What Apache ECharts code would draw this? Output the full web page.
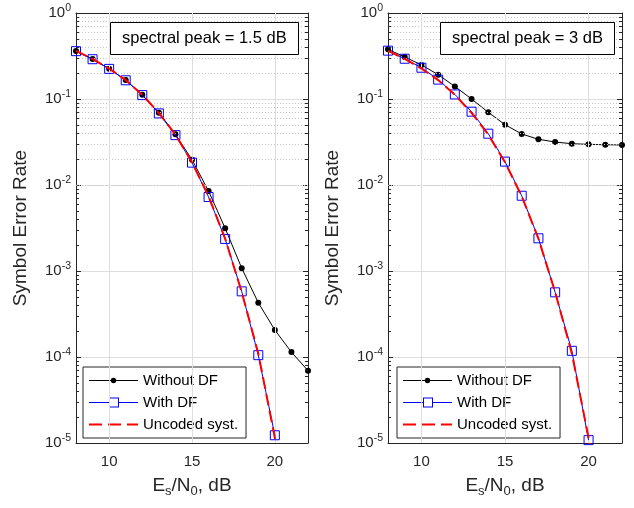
<!DOCTYPE html>
<html><head><meta charset="utf-8">
<script src="https://cdn.jsdelivr.net/npm/echarts@6/dist/echarts.min.js"></script>
<style>html,body{margin:0;padding:0;background:#fff}#c{width:634px;height:508px}</style>
</head><body><div id="c"></div>
<script>
// ---- data ----
const snr = [8, 9, 10, 11, 12, 13, 14, 15, 16, 17, 18, 19, 20, 21, 22];
const leftWithoutDF = [0.361, 0.292, 0.225, 0.166, 0.112, 0.0693, 0.0388, 0.0197, 0.0085, 0.00314, 0.00108, 4.28e-4, 2.06e-4, 1.14e-4, 6.93e-5];
const leftWithDF = [0.36, 0.29, 0.224, 0.165, 0.111, 0.068, 0.038, 0.0182, 0.00725, 0.00236, 5.8e-4, 1.05e-4, 1.23e-5];
const rightWithoutDF = [0.378, 0.308, 0.249, 0.192, 0.140, 0.100, 0.070, 0.0503, 0.0392, 0.034, 0.0316, 0.0302, 0.0297, 0.0294, 0.0292];
const rightWithDF = [0.365, 0.294, 0.231, 0.168, 0.113, 0.0712, 0.0395, 0.0187, 0.0075, 0.0024, 5.65e-4, 1.18e-4, 1.08e-5];
const uncodedSER = [0.362, 0.292, 0.226, 0.166, 0.112, 0.069, 0.0385, 0.0184, 0.0074, 0.00238, 5.7e-4, 1.1e-4, 1.15e-5, 8e-7];
const seriesNames = ['Without DF', 'With DF', 'Uncoded syst.'];
const panelTitles = ['spectral peak = 1.5 dB', 'spectral peak = 3 dB'];
const xTicks = [10, 15, 20];
const xRange = [8, 22];
const yRange = [1e-5, 1];

// ---- helpers ----
const FONT = 'Liberation Sans, Arial, Helvetica, sans-serif';
const pairs = arr => arr.map((v, i) => [snr[i], v]);
const minorVals = [];
for (let e = -5; e < 0; e++) for (let k = 2; k <= 9; k++) minorVals.push(k * Math.pow(10, e));

const grids = [
  { left: 76, top: 13, width: 232, height: 430 },
  { left: 388, top: 13, width: 234, height: 430 }
];
const axisColor = '#262626';

// legend icons (line sample + marker), drawn at 1:1 in a 49x14 box, fill only
const legendIcons = [
  'path://M0,6.5H49V7.5H0Z M21.8,7A2.7,2.7 0 1 1 27.2,7A2.7,2.7 0 1 1 21.8,7Z',
  'path://M0,6.5H20V7.5H0Z M20,2H30V12H20Z M21,3V11H29V3Z M30,6.5H49V7.5H30Z',
  'path://M0,6H13V8H0Z M19,6H32V8H19Z M38,6H49V8H38Z'
];
const legendItemStyles = [
  { color: '#000', borderWidth: 0 },
  { color: '#0000ff', borderWidth: 0 },
  { color: '#ff0000', borderWidth: 0 }
];

const xAxes = [], yAxes = [], series = [], titles = [], legends = [];
const panels = [
  { without: leftWithoutDF, withdf: leftWithDF },
  { without: rightWithoutDF, withdf: rightWithDF }
];
panels.forEach((p, gi) => {
  xAxes.push({
    gridIndex: gi, type: 'value', min: xRange[0], max: xRange[1], position: 'bottom',
    name: '{n|E}{sub|s}{n|/N}{sub|0}{n|, dB}', nameLocation: 'middle', nameGap: 31,
    nameTextStyle: { rich: { n: { fontSize: 19, fontFamily: FONT, color: axisColor }, sub: { fontSize: 13, fontFamily: FONT, color: axisColor, padding: [11, 0, 0, 0] } } },
    axisLine: { onZero: false, lineStyle: { color: axisColor, width: 1 } },
    axisTick: { show: true, inside: true, length: 5, customValues: xTicks, lineStyle: { color: axisColor } },
    axisLabel: { customValues: xTicks, fontSize: 15, fontFamily: FONT, color: axisColor, margin: 11 },
    splitLine: { show: false }
  });
  xAxes.push({
    gridIndex: gi, type: 'value', min: xRange[0], max: xRange[1], position: 'top',
    axisLine: { onZero: false, lineStyle: { color: axisColor, width: 1 } },
    axisTick: { show: true, inside: true, length: 5, customValues: xTicks, lineStyle: { color: axisColor } },
    axisLabel: { show: false }, splitLine: { show: false }
  });
  yAxes.push({
    gridIndex: gi, type: 'log', logBase: 10, min: yRange[0], max: yRange[1], position: 'left',
    name: 'Symbol Error Rate', nameLocation: 'middle', nameGap: 46,
    nameTextStyle: { fontSize: 19, fontFamily: FONT, color: axisColor },
    axisLine: { onZero: false, lineStyle: { color: axisColor, width: 1 } },
    axisTick: { show: true, inside: true, length: 5, lineStyle: { color: axisColor } },
    axisLabel: {
      margin: 5, color: axisColor,
      formatter: v => '{b|10}{s|' + Math.round(Math.log10(v)) + '}',
      rich: { b: { fontSize: 15, fontFamily: FONT, color: axisColor }, s: { fontSize: 10.5, fontFamily: FONT, color: axisColor, padding: [0, 0, 10, 0] } }
    },
    splitLine: { show: true, lineStyle: { color: '#dedede', width: 1 } }
  });
  yAxes.push({
    gridIndex: gi, type: 'log', logBase: 10, min: yRange[0], max: yRange[1], position: 'right',
    axisLine: { onZero: false, lineStyle: { color: axisColor, width: 1 } },
    axisTick: { show: true, inside: true, length: 5, lineStyle: { color: axisColor } },
    axisLabel: { show: false }, splitLine: { show: false }
  });
  const xi = gi * 2, yi = gi * 2;
  const tickDx = 0.18;
  const minorTickLines = [];
  minorVals.forEach(v => {
    minorTickLines.push([{ coord: [xRange[0], v] }, { coord: [xRange[0] + tickDx, v] }]);
    minorTickLines.push([{ coord: [xRange[1] - tickDx, v] }, { coord: [xRange[1], v] }]);
  });
  series.push({
    type: 'line', xAxisIndex: xi, yAxisIndex: yi, data: [], z: 1, silent: true,
    markLine: {
      silent: true, symbol: 'none', label: { show: false }, animation: false,
      lineStyle: { color: '#c4c4c4', type: [1, 2], width: 1 },
      data: minorVals.map(v => ({ yAxis: v }))
    }
  });
  series.push({
    type: 'line', xAxisIndex: xi, yAxisIndex: yi, data: [], z: 1, silent: true,
    markLine: {
      silent: true, symbol: 'none', label: { show: false }, animation: false,
      lineStyle: { color: '#dedede', type: 'solid', width: 1 },
      data: xTicks.map(v => ({ xAxis: v }))
    }
  });
  series.push({
    type: 'line', xAxisIndex: xi, yAxisIndex: yi, data: [], z: 3, silent: true,
    markLine: {
      silent: true, symbol: 'none', label: { show: false }, animation: false,
      lineStyle: { color: axisColor, type: 'solid', width: 1 },
      data: minorTickLines
    }
  });
  series.push({
    name: seriesNames[0], type: 'line', xAxisIndex: xi, yAxisIndex: yi, data: pairs(p.without),
    symbol: 'circle', symbolSize: 6, color: '#000',
    itemStyle: { color: '#000' }, lineStyle: { color: '#000', width: 1 }, animation: false, z: 4
  });
  series.push({
    name: seriesNames[1], type: 'line', xAxisIndex: xi, yAxisIndex: yi, data: pairs(p.withdf),
    symbol: 'rect', symbolSize: 9, color: '#0000ff',
    itemStyle: { color: 'rgba(0,0,0,0)', borderColor: '#0000ff', borderWidth: 1 },
    lineStyle: { color: '#0000ff', width: 1 }, animation: false, z: 5
  });
  series.push({
    name: seriesNames[2], type: 'line', xAxisIndex: xi, yAxisIndex: yi, data: pairs(uncodedSER),
    symbol: 'none', color: '#ff0000',
    lineStyle: { color: '#ff0000', width: 2, type: [12, 5] }, animation: false, z: 6
  });
  titles.push({
    text: panelTitles[gi], left: gi === 0 ? 110 : 440, top: 22, padding: [8, 12, 8, 12],
    borderColor: '#000', borderWidth: 1, backgroundColor: '#fff',
    textStyle: { fontSize: 16.5, fontWeight: 'normal', color: '#000', fontFamily: FONT }
  });
  legends.push({
    left: gi === 0 ? 83 : 397, top: 367, orient: 'vertical',
    data: seriesNames.map((n, i) => ({ name: n, icon: legendIcons[i], itemStyle: legendItemStyles[i] })),
    itemWidth: 49, itemHeight: 14, itemGap: 7, padding: [6, 8, 6, 6], symbolKeepAspect: true,
    borderColor: axisColor, borderWidth: 1, backgroundColor: '#fff', selectedMode: false,
    textStyle: { fontSize: 15, color: '#000', fontFamily: FONT }
  });
});

const chart = echarts.init(document.getElementById('c'), null, { renderer: 'canvas' });
chart.setOption({
  animation: false,
  backgroundColor: '#fff',
  title: titles,
  legend: legends,
  grid: grids,
  xAxis: xAxes,
  yAxis: yAxes,
  series: series
});
</script>
</body></html>
